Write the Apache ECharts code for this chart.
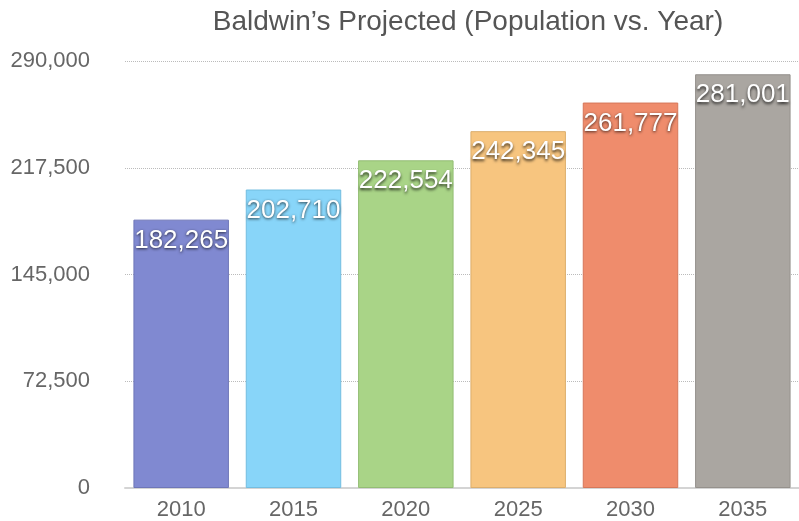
<!DOCTYPE html>
<html>
<head>
<meta charset="utf-8">
<script src="https://cdn.jsdelivr.net/npm/echarts@6/dist/echarts.min.js"></script>
<style>
html,body{margin:0;padding:0;background:#fff;}
#main{width:799px;height:521px;}
</style>
</head>
<body>
<div id="main"></div>
<script>
var years=["2010","2015","2020","2025","2030","2035"];
var population=[182265,202710,222554,242345,261777,281001];
var barColors=["#8089d1","#88d5f9","#a9d487","#f7c57f","#ef8c6c","#aaa6a1"];
var borderColors=["#6e76b8","#73bde0","#93bd74","#dcae6c","#d67759","#95918c"];

var data=[];
for(var i=0;i<population.length;i++){
	data.push({value:population[i],itemStyle:{color:barColors[i],borderColor:borderColors[i],borderWidth:1}});
}

var myChart=echarts.init(document.getElementById('main'));
var option={
	animation:false,
	title:{
		text:'Baldwin\u2019s Projected (Population vs. Year)',
		left:463,
		textAlign:'center',
		top:3,
		textStyle:{fontFamily:'Liberation Sans',fontSize:28,fontWeight:'normal',color:'#555'}
	},
	grid:{left:125,right:0,top:61,bottom:33},
	xAxis:[{
		type:'category',
		data:years,
		axisLine:{lineStyle:{color:'#d4d4d4',width:2}},
		axisTick:{show:false},
		axisLabel:{fontFamily:'Liberation Sans',fontSize:22,color:'#666',margin:11}
	}],
	yAxis:[{
		type:'value',
		min:0,
		max:290000,
		interval:72500,
		axisLine:{show:false},
		axisTick:{show:false},
		splitLine:{lineStyle:{color:'#bbb',type:'dotted'}},
		axisLabel:{fontFamily:'Liberation Sans',fontSize:22,color:'#666',margin:35,
			formatter:function(v){return v.toLocaleString('en-US');}}
	}],
	series:[{
		type:'bar',
		barWidth:'85%',
		data:data,
		label:{
			show:true,
			position:'insideTop',
			distance:8,
			fontFamily:'Liberation Sans',
			fontSize:26,
			color:'#fff',
			textShadowColor:'rgba(0,0,0,0.75)',
			textShadowBlur:3,
			textShadowOffsetY:1.5,
			formatter:function(p){return p.value.toLocaleString('en-US');}
		}
	}]
};
myChart.setOption(option);
</script>
</body>
</html>
